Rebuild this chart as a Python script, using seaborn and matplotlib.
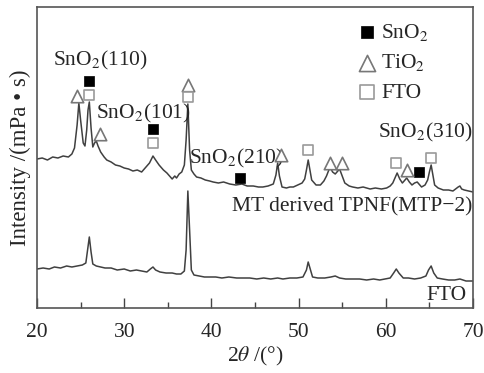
import numpy as np
import matplotlib
matplotlib.use('Agg')
import matplotlib.pyplot as plt
import seaborn as sns

# XRD pattern of the MTP-2 film (upper trace)
mtp_theta = [20.0, 20.6, 21.2, 21.8, 22.4, 23.0, 23.6, 24.0, 24.3, 24.6, 24.8, 25.0, 25.3, 25.5, 25.7, 25.85,
             26.0, 26.2, 26.4, 26.6, 26.8, 27.0, 27.3, 27.7, 28.0, 28.5, 29.0, 29.5, 30.0, 30.5, 31.0, 31.5,
             32.0, 32.5, 32.9, 33.3, 33.6, 34.0, 34.5, 34.9, 35.2, 35.5, 35.8, 36.0, 36.3, 36.6, 36.9, 37.1,
             37.3, 37.5, 37.7, 38.0, 38.3, 38.8, 39.3, 39.8, 40.2, 40.8, 41.4, 42.1, 42.8, 43.5, 44.1, 44.8,
             45.4, 45.9, 46.5, 47.1, 47.4, 47.6, 47.8, 48.1, 48.6, 49.0, 49.4, 49.9, 50.4, 50.7, 50.9, 51.1,
             51.3, 51.5, 52.0, 52.5, 52.9, 53.2, 53.6, 53.9, 54.2, 54.5, 54.7, 55.0, 55.3, 55.8, 56.2, 56.8,
             57.4, 58.2, 58.8, 59.5, 60.1, 60.5, 60.8, 61.1, 61.3, 61.6, 61.9, 62.2, 62.4, 62.7, 63.0, 63.3,
             63.6, 63.9, 64.1, 64.5, 64.8, 65.0, 65.2, 65.4, 65.6, 66.0, 66.6, 67.2, 67.7, 68.0, 68.3, 68.5,
             68.7, 69.0, 69.5, 70.0]
mtp_int = [149, 150, 148, 151, 150, 152, 151, 154, 160, 183, 205, 188, 165, 162, 178, 198,
           206, 180, 161, 165, 167, 162, 156, 151, 148, 146, 143, 142, 140, 139, 137, 138,
           136, 141, 145, 152, 148, 143, 138, 135, 132, 129, 132, 130, 134, 136, 143, 168,
           204, 158, 138, 134, 131, 130, 128, 127, 126, 125, 126, 124, 123, 124, 122, 122,
           121, 121, 122, 124, 133, 145, 132, 121, 120, 121, 121, 123, 125, 129, 138, 148,
           138, 128, 123, 123, 127, 132, 141, 136, 134, 137, 139, 132, 125, 122, 121, 120,
           121, 119, 120, 119, 120, 122, 125, 131, 135, 129, 125, 128, 130, 126, 123, 125,
           126, 123, 121, 123, 128, 136, 143, 133, 123, 120, 118, 118, 117, 119, 121, 122,
           119, 118, 117, 116]

# bare FTO substrate (lower trace)
fto_theta = [20.0, 20.7, 21.4, 22.0, 22.7, 23.4, 24.0, 24.6, 25.2, 25.6, 25.8, 26.0, 26.2, 26.4, 26.8, 27.3,
             27.8, 28.5, 29.2, 30.0, 30.7, 31.4, 32.0, 32.6, 33.0, 33.3, 33.6, 34.1, 34.8, 35.5, 36.0, 36.5,
             36.9, 37.1, 37.3, 37.5, 37.7, 38.0, 38.6, 39.2, 39.8, 40.5, 41.2, 42.0, 42.9, 43.7, 44.4, 45.2,
             46.0, 46.8, 47.6, 48.2, 49.0, 49.8, 50.5, 50.9, 51.1, 51.3, 51.6, 52.2, 53.0, 53.7, 54.2, 54.7,
             55.4, 56.2, 57.0, 57.8, 58.6, 59.3, 59.9, 60.5, 60.9, 61.2, 61.5, 62.0, 62.6, 63.3, 64.0, 64.6,
             64.9, 65.2, 65.5, 65.9, 66.5, 67.2, 67.9, 68.5, 69.2, 70.0]
fto_int = [39, 40, 39, 41, 40, 42, 41, 42, 43, 45, 58, 71, 56, 44, 42, 41,
           40, 40, 38, 39, 37, 38, 37, 36, 39, 41, 38, 36, 35, 35, 34, 34,
           37, 58, 117, 78, 38, 33, 32, 31, 31, 31, 30, 31, 30, 30, 30, 29,
           30, 29, 30, 29, 30, 30, 31, 38, 46, 40, 31, 30, 30, 31, 32, 30,
           29, 29, 29, 28, 29, 28, 29, 30, 35, 39, 35, 30, 30, 29, 30, 32,
           38, 42, 35, 30, 29, 28, 28, 29, 27, 27]

# phase markers
sno2_theta = [26.0, 33.3, 43.3, 63.8]
sno2_int = [227, 179, 130, 136]
tio2_theta = [24.6, 27.2, 37.3, 48.0, 53.6, 55.0, 62.4]
tio2_int = [212, 174, 223, 153, 145, 145, 138]
ftom_theta = [26.0, 33.3, 37.3, 51.1, 61.2, 65.2]
ftom_int = [213, 165, 211, 158, 145, 150]

sns.set_style('ticks')
plt.rcParams['font.family'] = ['Liberation Serif', 'DejaVu Serif']
plt.rcParams['mathtext.fontset'] = 'stix'

fs = 15.5

fig = plt.figure(figsize=(4.84, 3.73), dpi=100)
ax = fig.add_axes([37/484, 1-308/373, 436/484, 301/373])

sns.lineplot(x=mtp_theta, y=mtp_int, ax=ax, color='#404040', lw=1.1)
sns.lineplot(x=fto_theta, y=fto_int, ax=ax, color='#404040', lw=1.1)

sns.scatterplot(x=sno2_theta, y=sno2_int, ax=ax, marker='s', s=45, color='black',
                edgecolor='black', linewidth=0.5, label='SnO$_2$', zorder=5)
sns.scatterplot(x=tio2_theta, y=tio2_int, ax=ax, marker='^', s=80, facecolor='white',
                edgecolor='#777777', linewidth=1.2, label='TiO$_2$', zorder=5)
sns.scatterplot(x=ftom_theta, y=ftom_int, ax=ax, marker='s', s=60, facecolor='white',
                edgecolor='#9a9a9a', linewidth=1.2, label='FTO', zorder=5)

leg = ax.legend(loc='upper left', bbox_to_anchor=(0.71, 0.98), frameon=False, fontsize=fs,
                handletextpad=0.1, labelspacing=0.45, borderaxespad=0, handlelength=1.1,
                markerscale=1.3)

ax.set_xlim(20, 70)
ax.set_ylim(0, 301)
ax.set_xticks([20, 30, 40, 50, 60, 70])
ax.set_xticks([25, 35, 45, 55, 65], minor=True)
ax.set_yticks([])
ax.tick_params(axis='x', which='major', direction='in', length=7, width=1, labelsize=fs, pad=11,
               color='#444444')
ax.tick_params(axis='x', which='minor', direction='in', length=4, width=1, color='#444444')
for sp in ax.spines.values():
    sp.set_color('#555555')
    sp.set_linewidth(1.2)

ax.set_xlabel(r'2$\theta$ /(°)', fontsize=fs, labelpad=2)
ax.set_ylabel('Intensity /(mPa • s)', fontsize=16.5, labelpad=4)

ax.text(21.8, 248, 'SnO$_2$(110)', fontsize=fs, va='center', ha='left')
ax.text(26.8, 195, 'SnO$_2$(101)', fontsize=fs, va='center', ha='left')
ax.text(37.4, 150, 'SnO$_2$(210)', fontsize=fs, va='center', ha='left')
ax.text(59.1, 176, 'SnO$_2$(310)', fontsize=fs, va='center', ha='left')
ax.text(69.95, 101, 'MT derived TPNF(MTP−2)', fontsize=fs, va='center', ha='right')
ax.text(69.3, 13, 'FTO', fontsize=fs, va='center', ha='right')

plt.savefig('out.png', dpi=100)
